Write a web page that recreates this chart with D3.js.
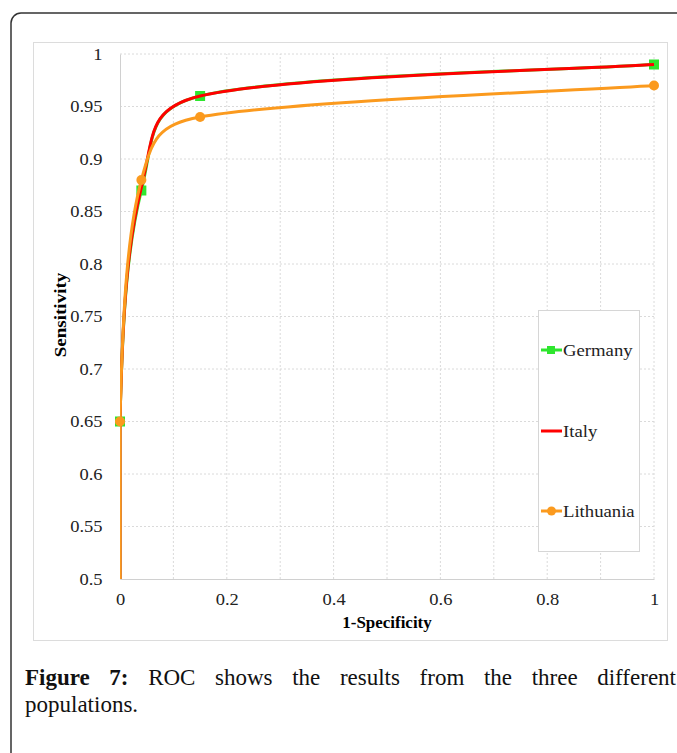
<!DOCTYPE html>
<html>
<head>
<meta charset="utf-8">
<script src="https://cdn.jsdelivr.net/npm/d3@7"></script>
<style>
  body { margin: 0; background: #fff; }
  svg { display: block; }
</style>
</head>
<body>
<svg id="chart" width="677" height="753"></svg>
<script>
// ROC points (x = 1-specificity)
var fpr = [0, 0, 0.04, 0.15, 1];
var germany = [0, 0.65, 0.87, 0.96, 0.99];
var italy = [0, 0.65, 0.873, 0.96, 0.99];
var lithuania = [0, 0.65, 0.88, 0.94, 0.97];

var xTicks = [0, 0.2, 0.4, 0.6, 0.8, 1];
var yTicks = [0.5, 0.55, 0.6, 0.65, 0.7, 0.75, 0.8, 0.85, 0.9, 0.95, 1];
var xGrid = [0, 0.1, 0.2, 0.3, 0.4, 0.5, 0.6, 0.7, 0.8, 0.9, 1];

var seriesNames = ['Germany', 'Italy', 'Lithuania'];
var seriesValues = [germany, italy, lithuania];
var captionBold = ['Figure', '7:'];
var captionText = 'ROC shows the results from the three different populations.';

var colors = {Germany: '#2ee62e', Italy: '#ff0000', Lithuania: '#fb9a1e'};
var markers = {Germany: 'square', Italy: null, Lithuania: 'circle'};
var serif = '"Liberation Serif", "Times New Roman", serif';

var svg = d3.select('#chart');

// the source figure is a bit wider than tall, stretch text to match
function stretch(sel, k) {
  sel.each(function() {
    var w = this.getComputedTextLength();
    d3.select(this).attr('textLength', w * k).attr('lengthAdjust', 'spacingAndGlyphs');
  });
}

// page frame
svg.append('rect')
  .attr('x', 11).attr('y', 13)
  .attr('width', 720).attr('height', 800)
  .attr('rx', 10)
  .attr('fill', '#fff')
  .attr('stroke', '#333').attr('stroke-width', 1.5);

// chart area
svg.append('rect')
  .attr('x', 33.5).attr('y', 42.5)
  .attr('width', 634).attr('height', 598)
  .attr('fill', '#fff')
  .attr('stroke', '#dcdcdc');

var x = d3.scaleLinear().domain([0, 1]).range([120, 654]);
var y = d3.scaleLinear().domain([0.5, 1]).range([579, 54]);

// grid
var grid = svg.append('g').attr('class', 'grid');
grid.selectAll('line.h')
  .data(yTicks.slice(1))
  .enter().append('line')
    .attr('x1', x(0)).attr('x2', x(1))
    .attr('y1', function(d) { return y(d); })
    .attr('y2', function(d) { return y(d); })
    .attr('stroke', '#dadada').attr('stroke-dasharray', '2,2');
grid.selectAll('line.v')
  .data(xGrid.slice(1))
  .enter().append('line')
    .attr('y1', y(0.5)).attr('y2', y(1))
    .attr('x1', function(d) { return x(d); })
    .attr('x2', function(d) { return x(d); })
    .attr('stroke', '#dadada').attr('stroke-dasharray', '2,2');

// axes
var fmt = function(d) { return d3.format('')(d); };
var xAxis = svg.append('g')
  .attr('transform', 'translate(0,' + y(0.5) + ')')
  .call(d3.axisBottom(x).tickValues(xTicks).tickSize(0).tickPadding(14).tickFormat(fmt));
xAxis.select('.domain').attr('stroke', '#d0d0d0');

var yAxis = svg.append('g')
  .attr('transform', 'translate(' + x(0) + ',0)')
  .call(d3.axisLeft(y).tickValues(yTicks).tickSize(0).tickPadding(17.5).tickFormat(fmt));
yAxis.select('.domain').attr('stroke', '#d0d0d0');

svg.selectAll('.tick text')
  .attr('font-family', serif)
  .attr('font-size', 16.5)
  .attr('fill', '#222')
  .call(stretch, 1.12);

svg.append('text')
  .attr('x', 387).attr('y', 628)
  .attr('text-anchor', 'middle')
  .attr('font-family', serif).attr('font-size', 16).attr('font-weight', 'bold')
  .text('1-Specificity')
  .call(stretch, 1.06);

svg.append('text')
  .attr('transform', 'translate(66,315) rotate(-90)')
  .attr('text-anchor', 'middle')
  .attr('font-family', serif).attr('font-size', 17).attr('font-weight', 'bold')
  .text('Sensitivity')
  .call(stretch, 1.12);

// spreadsheet-style smoothed line: tangent from neighbours, arm 1/6,
// capped at half the segment; a vertical run (same x) is drawn straight
function smoothPath(pts) {
  var p = pts.map(function(d) { return [x(d[0]), y(d[1])]; });
  var n = p.length, path = d3.path();
  function dist(a, b) { return Math.hypot(b[0] - a[0], b[1] - a[1]); }
  path.moveTo(p[0][0], p[0][1]);
  for (var i = 0; i < n - 1; i++) {
    var p0 = p[Math.max(i - 1, 0)], p1 = p[i], p2 = p[i + 1], p3 = p[Math.min(i + 2, n - 1)];
    if (p1[0] === p2[0]) {
      path.lineTo(p2[0], p2[1]);
      continue;
    }
    var d12 = dist(p1, p2), d02 = dist(p0, p2), d13 = dist(p1, p3);
    var f1 = (d02 / 6 < d12 / 2) ? 1 / 6 : d12 / (2 * d02);
    var f2 = (d13 / 6 < d12 / 2) ? 1 / 6 : d12 / (2 * d13);
    path.bezierCurveTo(
      p1[0] + f1 * (p2[0] - p0[0]), p1[1] + f1 * (p2[1] - p0[1]),
      p2[0] - f2 * (p3[0] - p1[0]), p2[1] - f2 * (p3[1] - p1[1]),
      p2[0], p2[1]);
  }
  return path.toString();
}

svg.append('clipPath').attr('id', 'plotClip')
  .append('rect')
    .attr('x', x(0)).attr('y', y(1) - 10)
    .attr('width', x(1) - x(0) + 10).attr('height', y(0.5) - y(1) + 10);

var series = seriesNames.map(function(name, i) {
  return {
    name: name,
    points: fpr.map(function(f, j) { return [f, seriesValues[i][j]]; })
  };
});

// each series draws its line, then its markers, in legend order
series.forEach(function(s) {
  var g = svg.append('g').attr('class', 'series');
  g.append('path')
    .attr('clip-path', 'url(#plotClip)')
    .attr('d', smoothPath(s.points))
    .attr('fill', 'none')
    .attr('stroke', colors[s.name])
    .attr('stroke-width', 3)
    .attr('stroke-linejoin', 'round');

  var pts = s.points.filter(function(p) { return p[1] >= 0.5; });
  if (markers[s.name] === 'square') {
    g.selectAll('rect')
      .data(pts).enter().append('rect')
        .attr('x', function(d) { return x(d[0]) - 5; })
        .attr('y', function(d) { return y(d[1]) - 5; })
        .attr('width', 10).attr('height', 10)
        .attr('fill', colors[s.name]);
  } else if (markers[s.name] === 'circle') {
    g.selectAll('circle')
      .data(pts).enter().append('circle')
        .attr('cx', function(d) { return x(d[0]); })
        .attr('cy', function(d) { return y(d[1]); })
        .attr('r', 5)
        .attr('fill', colors[s.name]);
  }
});

// legend
var legend = svg.append('g');
legend.append('rect')
  .attr('x', 538.5).attr('y', 310.5)
  .attr('width', 101).attr('height', 241)
  .attr('fill', '#fff')
  .attr('stroke', '#d6d6d6');

var legendY = [350, 431, 511];
seriesNames.forEach(function(name, i) {
  var g = legend.append('g').attr('transform', 'translate(0,' + legendY[i] + ')');
  g.append('line')
    .attr('x1', 541).attr('x2', 562)
    .attr('stroke', colors[name]).attr('stroke-width', 3);
  if (markers[name] === 'square') {
    g.append('rect').attr('x', 547).attr('y', -4).attr('width', 8).attr('height', 8)
      .attr('fill', colors[name]);
  } else if (markers[name] === 'circle') {
    g.append('circle').attr('cx', 551.5).attr('r', 4.5).attr('fill', colors[name]);
  }
  g.append('text')
    .attr('x', 563).attr('y', 6)
    .attr('font-family', serif).attr('font-size', 17).attr('fill', '#222')
    .text(name)
    .call(stretch, 1.1);
});

// caption, justified on the first line
var words = captionBold.concat(captionText.split(' '));
var line1 = words.slice(0, words.length - 1);
var cap = svg.append('g')
  .attr('font-family', serif).attr('font-size', 23).attr('fill', '#111');
var widths = line1.map(function(w, i) {
  var t = cap.append('text').attr('x', 0).attr('y', 685).text(w);
  if (i < captionBold.length) t.attr('font-weight', 'bold');
  return t.node().getComputedTextLength();
});
var left = 25, right = 676;
var gap = (right - left - d3.sum(widths)) / (line1.length - 1);
var cx = left;
cap.selectAll('text').each(function(d, i) {
  d3.select(this).attr('x', cx);
  cx += widths[i] + gap;
});
cap.append('text').attr('x', left).attr('y', 712).text(words[words.length - 1]);
</script>
</body>
</html>
